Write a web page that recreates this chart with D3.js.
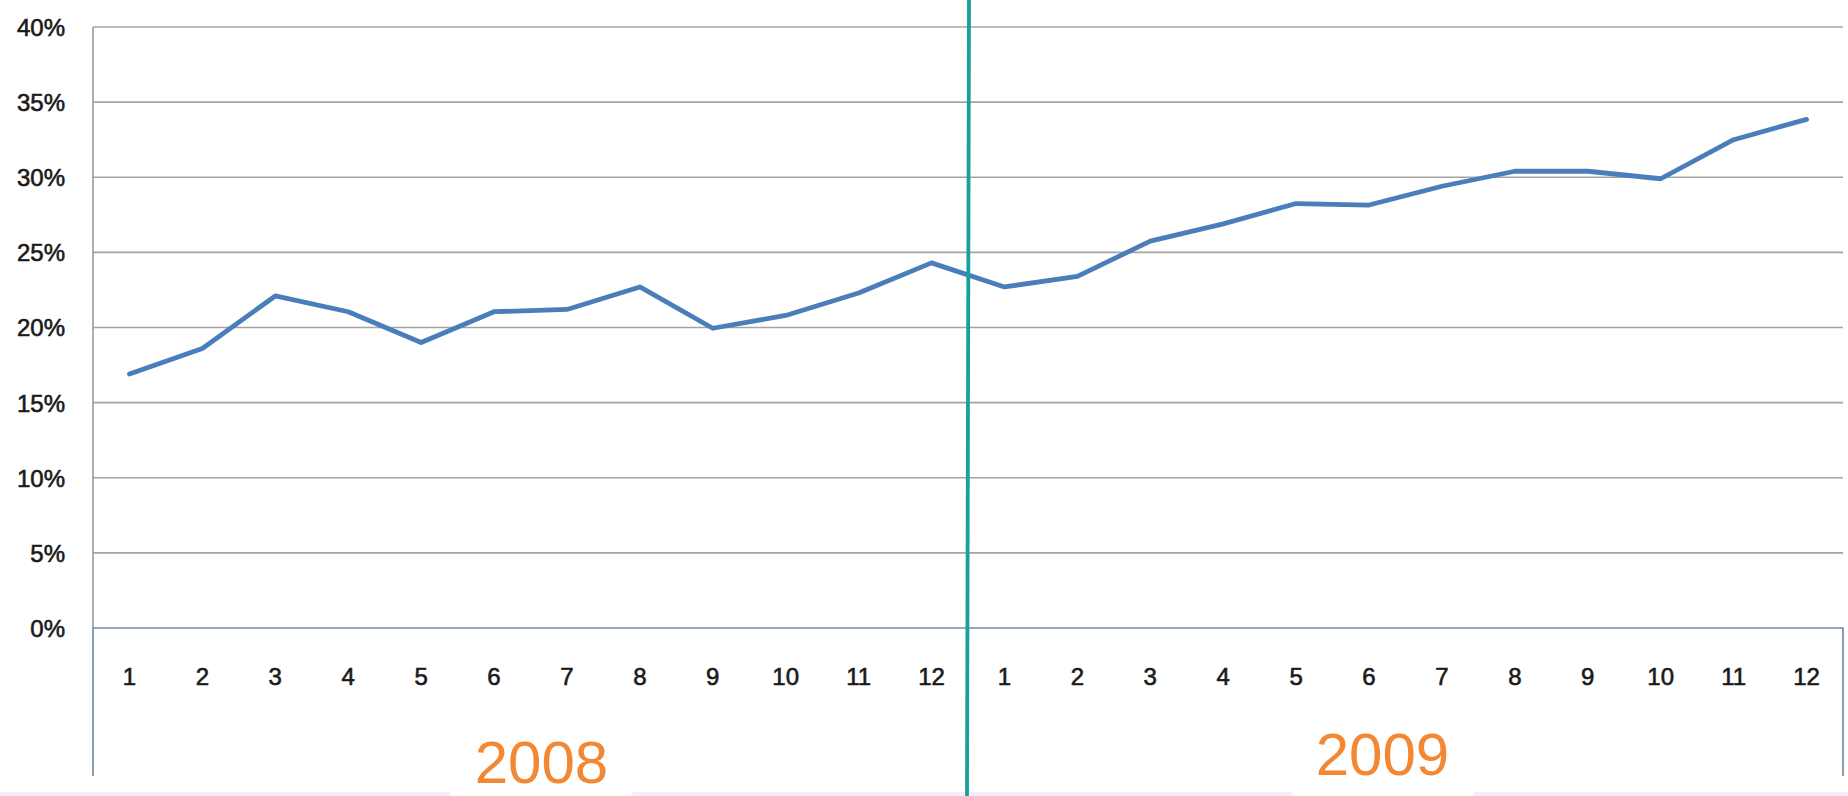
<!DOCTYPE html>
<html>
<head>
<meta charset="utf-8">
<script src="https://cdn.jsdelivr.net/npm/d3@7"></script>
<style>
  html, body { margin: 0; padding: 0; background: #ffffff; }
  svg { display: block; }
</style>
</head>
<body>
<svg id="chart" width="1848" height="796"></svg>
<script>
// Monthly share, two years side by side
const years = ["2008", "2009"];
const months = [1, 2, 3, 4, 5, 6, 7, 8, 9, 10, 11, 12];
const values2008 = [0.169, 0.186, 0.221, 0.2105, 0.190, 0.2105, 0.212, 0.227, 0.1995, 0.208, 0.223, 0.243];
const values2009 = [0.227, 0.234, 0.2575, 0.269, 0.2825, 0.2815, 0.294, 0.304, 0.304, 0.299, 0.325, 0.3385];
const yTicks = [0, 0.05, 0.10, 0.15, 0.20, 0.25, 0.30, 0.35, 0.40];

const W = 1848, H = 796;
const plot = { left: 93, right: 1843, top: 27, bottom: 628 };

const points = [];
years.forEach((yr, i) => {
  const vals = i === 0 ? values2008 : values2009;
  months.forEach((m, j) => points.push({ key: yr + "-" + m, year: yr, month: m, value: vals[j] }));
});

const svg = d3.select("#chart");

const x = d3.scaleBand()
  .domain(points.map(d => d.key))
  .range([plot.left, plot.right])
  .padding(0);

const y = d3.scaleLinear()
  .domain([0, 0.4])
  .range([plot.bottom, plot.top]);

const cx = d => x(d.key) + x.bandwidth() / 2;

// thin lavender strip along the bottom edge
svg.append("rect")
  .attr("x", 0).attr("y", 792).attr("width", W).attr("height", 4)
  .attr("fill", "#f5eef9");

// horizontal gridlines
svg.append("g")
  .selectAll("line")
  .data(yTicks.filter(t => t > 0))
  .join("line")
  .attr("x1", plot.left).attr("x2", plot.right)
  .attr("y1", d => y(d)).attr("y2", d => y(d))
  .attr("stroke", "#a4a4a4")
  .attr("stroke-width", 1.7);

// left value axis line
svg.append("line")
  .attr("x1", plot.left).attr("x2", plot.left)
  .attr("y1", plot.top).attr("y2", plot.bottom)
  .attr("stroke", "#9a9a9a").attr("stroke-width", 1.6);

// category box below the zero line
const boxBottom = 776;
svg.append("path")
  .attr("d", `M${plot.left},${boxBottom}V${y(0)}H${plot.right}V${boxBottom}`)
  .attr("fill", "none")
  .attr("stroke", "#7a8ca6")
  .attr("stroke-width", 1.7);

const labelFont = "'Liberation Sans', Arial, sans-serif";

// y axis labels
const yAxis = d3.axisLeft(y)
  .tickValues(yTicks)
  .tickFormat(d3.format(".0%"))
  .tickSize(0)
  .tickPadding(28);
const gy = svg.append("g")
  .attr("transform", `translate(${plot.left},0)`)
  .call(yAxis);
gy.select(".domain").remove();
gy.selectAll("text")
  .attr("font-family", labelFont)
  .attr("font-size", 24)
  .attr("fill", "#1a1a1a")
  .attr("stroke", "#1a1a1a")
  .attr("stroke-width", 0.6)
  .attr("dy", "0.35em");

// month labels
const xAxis = d3.axisBottom(x)
  .tickFormat(k => k.split("-")[1])
  .tickSize(0)
  .tickPadding(40);
const gx = svg.append("g")
  .attr("transform", `translate(0,${y(0)})`)
  .call(xAxis);
gx.select(".domain").remove();
gx.selectAll("text")
  .attr("font-family", labelFont)
  .attr("font-size", 24)
  .attr("fill", "#1a1a1a")
  .attr("stroke", "#1a1a1a")
  .attr("stroke-width", 0.6);

// data line
const line = d3.line()
  .x(cx)
  .y(d => y(d.value));
svg.append("path")
  .datum(points)
  .attr("d", line)
  .attr("fill", "none")
  .attr("stroke", "#4a7ebb")
  .attr("stroke-width", 4.8)
  .attr("stroke-linejoin", "round")
  .attr("stroke-linecap", "round");

// year divider
const divX = x(years[1] + "-1");
svg.append("line")
  .attr("x1", divX + 1).attr("x2", divX - 1)
  .attr("y1", 0).attr("y2", H)
  .attr("stroke", "#17a09f")
  .attr("stroke-width", 3.8);

// year captions
const yearOffsets = [11, -23];
years.forEach((yr, i) => {
  const first = x(yr + "-1");
  const last = x(yr + "-12") + x.bandwidth();
  const center = (first + last) / 2 + yearOffsets[i];
  svg.append("rect")
    .attr("x", center - 91).attr("y", 790)
    .attr("width", 182).attr("height", 6)
    .attr("fill", "#ffffff");
  svg.append("text")
    .attr("x", center)
    .attr("y", i === 0 ? 783 : 775)
    .attr("text-anchor", "middle")
    .attr("font-family", labelFont)
    .attr("font-size", 60)
    .attr("fill", "#f38834")
    .text(yr);
});
</script>
</body>
</html>
